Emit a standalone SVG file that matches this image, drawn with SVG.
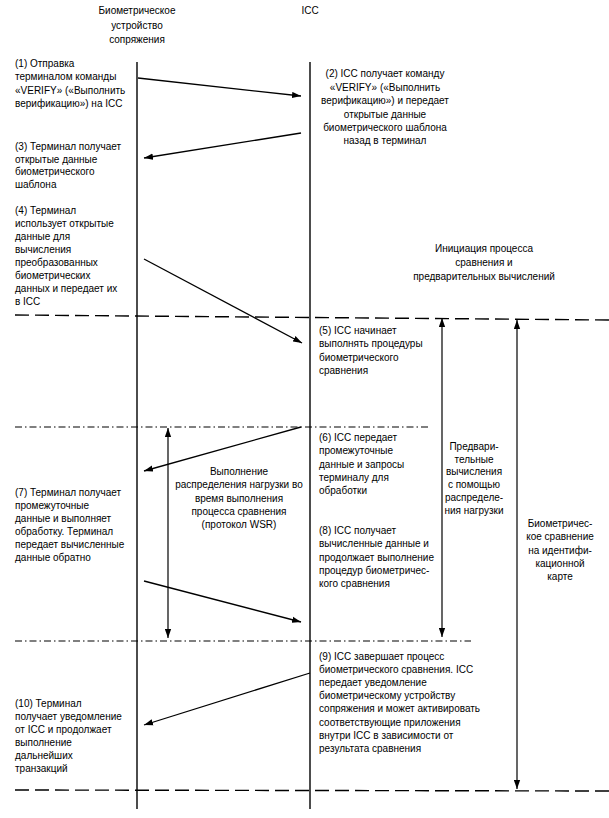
<svg xmlns="http://www.w3.org/2000/svg" width="609" height="818" viewBox="0 0 609 818">
<style>
text{font-family:"Liberation Sans",Arial,sans-serif;font-size:10px;fill:#000}
.c{text-anchor:middle}
.life{stroke:#000;stroke-width:1.4;fill:none}
.msg{stroke:#000;stroke-width:1.3;fill:none;marker-end:url(#ah)}
.dbl{stroke:#000;stroke-width:1.2;fill:none;marker-start:url(#ah);marker-end:url(#ah)}
.dash{stroke:#000;stroke-width:1.4;fill:none;stroke-dasharray:14 6}
.dd{stroke:#000;stroke-width:1.2;fill:none;stroke-dasharray:7 3 1.5 3}
</style>
<defs>
<marker id="ah" viewBox="0 0 10 7" refX="10" refY="3.5" markerWidth="9" markerHeight="7" markerUnits="userSpaceOnUse" orient="auto-start-reverse">
<path d="M0,0 L10,3.5 L0,7 z" fill="#000"/>
</marker>
</defs>
<rect width="609" height="818" fill="#fff"/>
<g id="lifeline-terminal">
<text class="c" x="137" y="14">Биометрическое</text>
<text class="c" x="137" y="28.5">устройство</text>
<text class="c" x="137" y="43">сопряжения</text>
<line class="life" x1="137" y1="62" x2="137" y2="809"/>
</g>
<g id="lifeline-icc">
<text class="c" x="310" y="14">ICC</text>
<line class="life" x1="310" y1="62" x2="310" y2="809"/>
</g>
<g id="separators">
<path class="dash" d="M15,315 L609,320"/>
<path class="dd" d="M15,427 L428,427"/>
<path class="dd" d="M15,641 L471,641"/>
<path class="dash" d="M15,790 L609,791"/>
</g>
<g id="connectors">
<line class="msg" x1="138" y1="78" x2="301" y2="96"/>
<line class="msg" x1="301" y1="133" x2="144" y2="158"/>
<line class="msg" x1="144" y1="259" x2="302" y2="343"/>
<line class="msg" x1="301" y1="427" x2="144" y2="471"/>
<line class="msg" x1="144" y1="581" x2="301" y2="622"/>
<line class="msg" x1="310" y1="673" x2="144" y2="725"/>
<line class="dbl" x1="168" y1="428" x2="168" y2="638"/>
<line class="dbl" x1="442" y1="318" x2="442" y2="637"/>
<line class="dbl" x1="517" y1="320" x2="517" y2="789"/>
</g>
<g id="step1">
<text x="15" y="67">(1) Отправка</text>
<text x="15" y="80.3">терминалом команды</text>
<text x="15" y="93.6">«VERIFY» («Выполнить</text>
<text x="15" y="107">верификацию») на ICC</text>
</g>
<g id="step2">
<text class="c" x="385" y="77">(2) ICC получает команду</text>
<text class="c" x="385" y="90.5">«VERIFY» («Выполнить</text>
<text class="c" x="385" y="104">верификацию») и передает</text>
<text class="c" x="385" y="117.5">открытые данные</text>
<text class="c" x="385" y="131">биометрического шаблона</text>
<text class="c" x="385" y="144">назад в терминал</text>
</g>
<g id="step3">
<text x="15" y="150">(3) Терминал получает</text>
<text x="15" y="162.5">открытые данные</text>
<text x="15" y="175">биометрического</text>
<text x="15" y="187.5">шаблона</text>
</g>
<g id="step4">
<text x="15" y="214">(4) Терминал</text>
<text x="15" y="227">использует открытые</text>
<text x="15" y="240">данные для</text>
<text x="15" y="253">вычисления</text>
<text x="15" y="266">преобразованных</text>
<text x="15" y="279">биометрических</text>
<text x="15" y="292">данных и передает их</text>
<text x="15" y="305">в ICC</text>
</g>
<g id="phase-init">
<text class="c" x="484" y="252">Инициация процесса</text>
<text class="c" x="484" y="266">сравнения и</text>
<text class="c" x="484" y="280">предварительных вычислений</text>
</g>
<g id="step5">
<text x="319" y="334">(5) ICC начинает</text>
<text x="319" y="347.3">выполнять процедуры</text>
<text x="319" y="360.6">биометрического</text>
<text x="319" y="374">сравнения</text>
</g>
<g id="step6">
<text x="319" y="441">(6) ICC передает</text>
<text x="319" y="454.3">промежуточные</text>
<text x="319" y="467.6">данные и запросы</text>
<text x="319" y="481">терминалу для</text>
<text x="319" y="494">обработки</text>
</g>
<g id="wsr">
<text class="c" x="239" y="475">Выполнение</text>
<text class="c" x="239" y="488.3">распределения нагрузки во</text>
<text class="c" x="239" y="501.6">время выполнения</text>
<text class="c" x="239" y="515">процесса сравнения</text>
<text class="c" x="239" y="528">(протокол WSR)</text>
</g>
<g id="step7">
<text x="15" y="496">(7) Терминал получает</text>
<text x="15" y="509">промежуточные</text>
<text x="15" y="522">данные и выполняет</text>
<text x="15" y="535">обработку. Терминал</text>
<text x="15" y="548">передает вычисленные</text>
<text x="15" y="561">данные обратно</text>
</g>
<g id="pre-calc">
<text class="c" x="474" y="450">Предвари-</text>
<text class="c" x="474" y="462.7">тельные</text>
<text class="c" x="474" y="475.4">вычисления</text>
<text class="c" x="474" y="488">с помощью</text>
<text class="c" x="474" y="500.7">распределе-</text>
<text class="c" x="474" y="513.5">ния нагрузки</text>
</g>
<g id="card-match">
<text class="c" x="560" y="527">Биометричес-</text>
<text class="c" x="560" y="540.3">кое сравнение</text>
<text class="c" x="560" y="553.6">на идентифи-</text>
<text class="c" x="560" y="567">кационной</text>
<text class="c" x="560" y="580">карте</text>
</g>
<g id="step8">
<text x="319" y="534">(8) ICC получает</text>
<text x="319" y="547.3">вычисленные данные и</text>
<text x="319" y="560.6">продолжает выполнение</text>
<text x="319" y="574">процедур биометричес-</text>
<text x="319" y="587">кого сравнения</text>
</g>
<g id="step9">
<text x="319" y="660">(9) ICC завершает процесс</text>
<text x="319" y="673.1">биометрического сравнения. ICC</text>
<text x="319" y="686.2">передает уведомление</text>
<text x="319" y="699.3">биометрическому устройству</text>
<text x="319" y="712.4">сопряжения и может активировать</text>
<text x="319" y="725.5">соответствующие приложения</text>
<text x="319" y="738.6">внутри ICC в зависимости от</text>
<text x="319" y="751.7">результата сравнения</text>
</g>
<g id="step10">
<text x="15" y="707">(10) Терминал</text>
<text x="15" y="720">получает уведомление</text>
<text x="15" y="733">от ICC и продолжает</text>
<text x="15" y="746">выполнение</text>
<text x="15" y="759">дальнейших</text>
<text x="15" y="772">транзакций</text>
</g>
</svg>
